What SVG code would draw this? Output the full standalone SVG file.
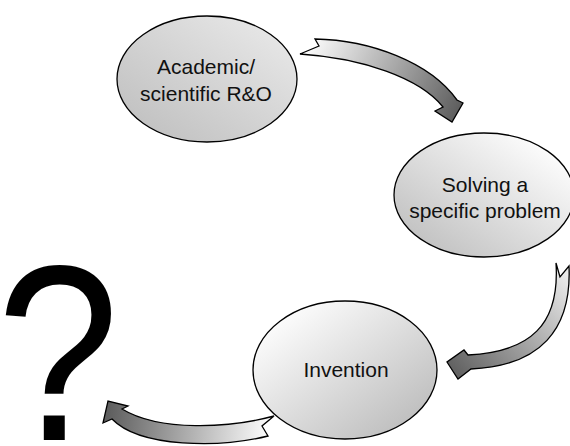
<svg xmlns="http://www.w3.org/2000/svg" width="570" height="446" viewBox="0 0 570 446">
<defs>
<linearGradient id="gA" x1="0" y1="1" x2="1" y2="0"><stop offset="0" stop-color="#bcbcbc"/><stop offset="1" stop-color="#ececec"/></linearGradient>
<linearGradient id="gS" x1="0" y1="1" x2="1" y2="0"><stop offset="0" stop-color="#b8b8b8"/><stop offset="0.9" stop-color="#ffffff"/></linearGradient>
<linearGradient id="gI" x1="0" y1="0" x2="1" y2="1"><stop offset="0.1" stop-color="#ffffff"/><stop offset="1" stop-color="#b4b4b4"/></linearGradient>
<linearGradient id="a1" gradientUnits="userSpaceOnUse" x1="305" y1="45" x2="455" y2="118"><stop offset="0" stop-color="#ffffff"/><stop offset="1" stop-color="#5e5e5e"/></linearGradient>
<linearGradient id="a2" gradientUnits="userSpaceOnUse" x1="562" y1="268" x2="452" y2="366"><stop offset="0" stop-color="#ececec"/><stop offset="1" stop-color="#636363"/></linearGradient>
<linearGradient id="a3" gradientUnits="userSpaceOnUse" x1="272" y1="425" x2="108" y2="410"><stop offset="0" stop-color="#ffffff"/><stop offset="1" stop-color="#5e5e5e"/></linearGradient>
</defs>
<style>
.node{stroke:#000;stroke-width:1.3}
.lbl{font-family:"Liberation Sans",Arial,sans-serif;font-size:21px;fill:#111;text-anchor:middle}
.arr{stroke:#000;stroke-width:1.3;stroke-linejoin:miter}
.q{font-family:"Liberation Sans",Arial,sans-serif;font-size:250px;fill:#000;text-anchor:middle}
</style>
<rect width="570" height="446" fill="#fff"/>
<g id="connectors">
<path class="arr" fill="url(#a1)" d="M315,39 C370,40 430,62 457,100 L463,103 L452,122 L435,111 L443,107 C420,78 362,58 300,54 L319,46 Z"/>
<path class="arr" fill="url(#a2)" d="M556,263 C560,325 530,352 468,355 L464,350 L447,362 L458,379 L471,369 C540,366 572,330 569,266 L560,277 Z"/>
<path class="arr" fill="url(#a3)" d="M274,416 C230,428 160,432 122,409 L128,406 L108,401 L103,423 L112,419 C140,448 220,448 268,436 L262,426 Z"/>
</g>
<g id="academic">
<ellipse class="node" fill="url(#gA)" cx="207" cy="79" rx="90" ry="63"/>
<text class="lbl" x="206" y="74">Academic/</text>
<text class="lbl" x="206" y="101">scientific R&amp;O</text>
</g>
<g id="solving">
<ellipse class="node" fill="url(#gS)" cx="484" cy="195" rx="90" ry="62"/>
<text class="lbl" x="485" y="192">Solving a</text>
<text class="lbl" x="485" y="218">specific problem</text>
</g>
<g id="invention">
<ellipse class="node" fill="url(#gI)" cx="345" cy="370" rx="92" ry="69"/>
<text class="lbl" x="346" y="377">Invention</text>
</g>
<g id="question">
<text class="q" transform="translate(58,440) scale(0.88,1)" x="0" y="0">?</text>
</g>
</svg>
